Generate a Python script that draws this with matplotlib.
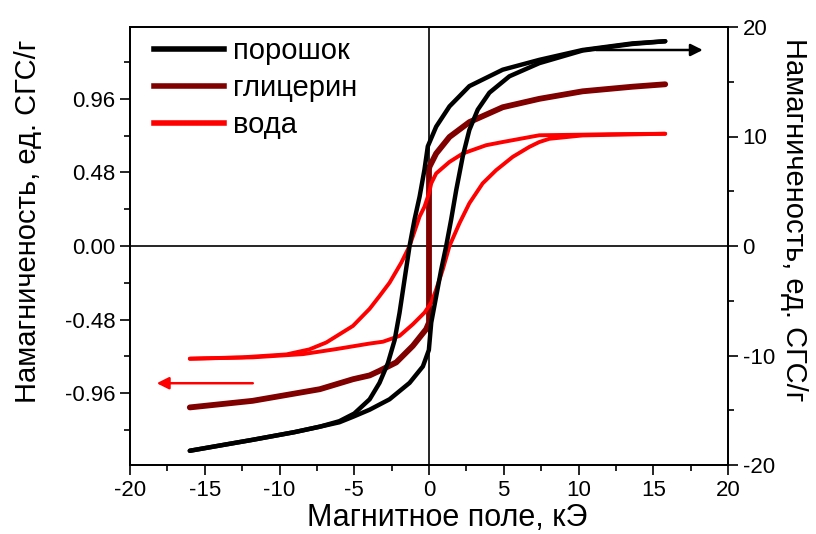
import matplotlib
matplotlib.use("Agg")
import matplotlib.pyplot as plt
from matplotlib.ticker import MultipleLocator, FixedLocator
from matplotlib.lines import Line2D

plt.rcParams['font.family'] = ['Liberation Sans', 'DejaVu Sans']
plt.rcParams['axes.unicode_minus'] = False

# ---- data (H in kOe) ----
# порошок (right axis, emu/g)
H_pow_up = [-16, -11.8, -9.0, -7.3, -6.0, -5.09, -3.97, -2.64, -1.30, -0.41, -0.01, 0.15, 0.48, 0.81, 1.15,
            1.48, 1.82, 2.26, 2.70, 3.26, 4.04, 5.38, 7.38, 10.27, 13.6, 15.8]
M_pow_up = [-18.7, -17.7, -17.0, -16.5, -16.1, -15.6, -14.95, -14.0, -12.5, -11.0, -9.5, -7.0, -4.6, -2.2, 0.0,
            2.4, 5.1, 8.2, 10.6, 12.45, 14.0, 15.5, 16.7, 17.85, 18.45, 18.7]
H_pow_dn = [15.8, 13.6, 10.27, 7.38, 4.93, 2.70, 1.37, 0.48, -0.08, -0.30, -0.63, -0.97, -1.30, -1.64, -1.97,
            -2.30, -2.75, -3.31, -3.97, -5.0, -6.0, -7.3, -9.0, -11.8, -16]
M_pow_dn = [18.7, 18.5, 17.9, 17.0, 16.1, 14.6, 12.75, 10.9, 9.1, 7.0, 4.5, 2.4, 0.0, -3.1, -6.1,
            -8.6, -10.7, -12.5, -14.0, -15.3, -16.0, -16.5, -17.0, -17.7, -18.7]

# глицерин (left axis)
H_gly = [-16, -11.8, -7.3, -5.09, -3.97, -3.31, -2.19, -1.08, -0.19, 0.0, 0.0, 0.03, 0.48, 1.37, 2.70,
         4.93, 7.38, 10.27, 13.6, 15.8]
M_gly = [-1.054, -1.011, -0.935, -0.87, -0.845, -0.815, -0.76, -0.652, -0.543, -0.50, 0.50, 0.517, 0.604, 0.712, 0.809,
         0.906, 0.961, 1.01, 1.04, 1.056]

# вода (left axis)
H_w_dn = [15.8, 12.0, 10.27, 7.38, 4.93, 3.82, 2.26, 1.37, 0.48, 0.15, 0.0, -0.30, -0.63, -1.30, -1.86,
          -2.64, -3.31, -3.97, -5.09, -6.87, -8.0, -9.54, -12.5, -16]
M_w_dn = [0.733, 0.73, 0.727, 0.723, 0.679, 0.658, 0.604, 0.549, 0.474, 0.409, 0.344, 0.257, 0.192, 0.0, -0.11,
          -0.24, -0.327, -0.41, -0.522, -0.63, -0.675, -0.708, -0.727, -0.736]
H_w_up = [-16, -11.77, -8.43, -6.2, -3.97, -3.08, -1.97, -1.08, -0.30, 0.15, 0.48, 0.92, 1.37, 2.04, 2.70,
          3.59, 4.49, 5.60, 6.71, 7.38, 8.05, 10.27, 15.8]
M_w_up = [-0.736, -0.727, -0.706, -0.673, -0.637, -0.625, -0.587, -0.511, -0.435, -0.37, -0.284, -0.154, 0.0, 0.149, 0.279,
          0.409, 0.495, 0.582, 0.647, 0.679, 0.70, 0.722, 0.733]

labels = ['порошок', 'глицерин', 'вода']
colors = ['#000000', '#800000', '#ff0000']

xticks = [-20, -15, -10, -5, 0, 5, 10, 15, 20]
lticks = [-0.96, -0.48, 0.0, 0.48, 0.96]
rticks = [-20, -10, 0, 10, 20]

fig = plt.figure(figsize=(8.16, 5.34), dpi=100)
ax = fig.add_axes([130/816, 1-465/534, 598/816, 438/534])
ax2 = ax.twinx()

ax.axhline(0, color='black', lw=1.2, zorder=1)
ax.axvline(0, color='black', lw=1.2, zorder=1)

ax.plot(H_gly, M_gly, color=colors[1], lw=4.2, solid_capstyle='round', solid_joinstyle='round', zorder=3)
ax.plot(H_w_dn, M_w_dn, color=colors[2], lw=2.8, solid_capstyle='round', solid_joinstyle='round', zorder=4)
ax.plot(H_w_up, M_w_up, color=colors[2], lw=2.8, solid_capstyle='round', solid_joinstyle='round', zorder=4)
ax2.plot(H_pow_up, M_pow_up, color=colors[0], lw=3.2, solid_capstyle='round', solid_joinstyle='round')
ax2.plot(H_pow_dn, M_pow_dn, color=colors[0], lw=3.2, solid_capstyle='round', solid_joinstyle='round')

ax.set_xlim(-20, 20)
ax.set_ylim(-1.43, 1.43)
ax2.set_ylim(-20, 20)

ax.xaxis.set_major_locator(FixedLocator(xticks))
ax.xaxis.set_minor_locator(MultipleLocator(2.5))
ax.yaxis.set_major_locator(FixedLocator(lticks))
ax.yaxis.set_minor_locator(MultipleLocator(0.24))
ax.set_yticklabels([f'{v:.2f}' for v in lticks])
ax2.yaxis.set_major_locator(FixedLocator(rticks))
ax2.yaxis.set_minor_locator(MultipleLocator(5))

for a in (ax, ax2):
    a.tick_params(which='major', direction='out', length=7, width=1.2, labelsize=16)
    a.tick_params(which='minor', direction='out', length=4, width=1.2)
    for s in a.spines.values():
        s.set_linewidth(1.3)
ax.tick_params(top=False, right=False, which='both')
ax2.tick_params(left=False, right=True, which='both')

# arrows
ax.annotate('', xy=(-18.4, -0.896), xytext=(-11.6, -0.896),
            arrowprops=dict(arrowstyle='-|>', color='#ff0000', lw=1.8, mutation_scale=18))
ax2.annotate('', xy=(18.5, 17.9), xytext=(11.0, 17.9),
             arrowprops=dict(arrowstyle='-|>', color='black', lw=1.8, mutation_scale=18))

handles = [Line2D([], [], color=c, lw=4) for c in colors]
leg = ax2.legend(handles, labels, loc='upper left', bbox_to_anchor=(0.02, 1.003),
                 frameon=False, fontsize=21, handlelength=2.4, handletextpad=0.33,
                 labelspacing=0.31, borderaxespad=0.0)

fig.text(447/816, 1-526/534, 'Магнитное поле, кЭ', ha='center', va='baseline', fontsize=22)
fig.text(28/816, 1-221/534, 'Намагниченость, ед. СГС/г', ha='center', va='center',
         rotation=90, fontsize=21)
fig.text(794/816, 1-220/534, 'Намагниченость, ед. СГС/г', ha='center', va='center',
         rotation=-90, fontsize=21)

fig.savefig('out.png', dpi=100)
